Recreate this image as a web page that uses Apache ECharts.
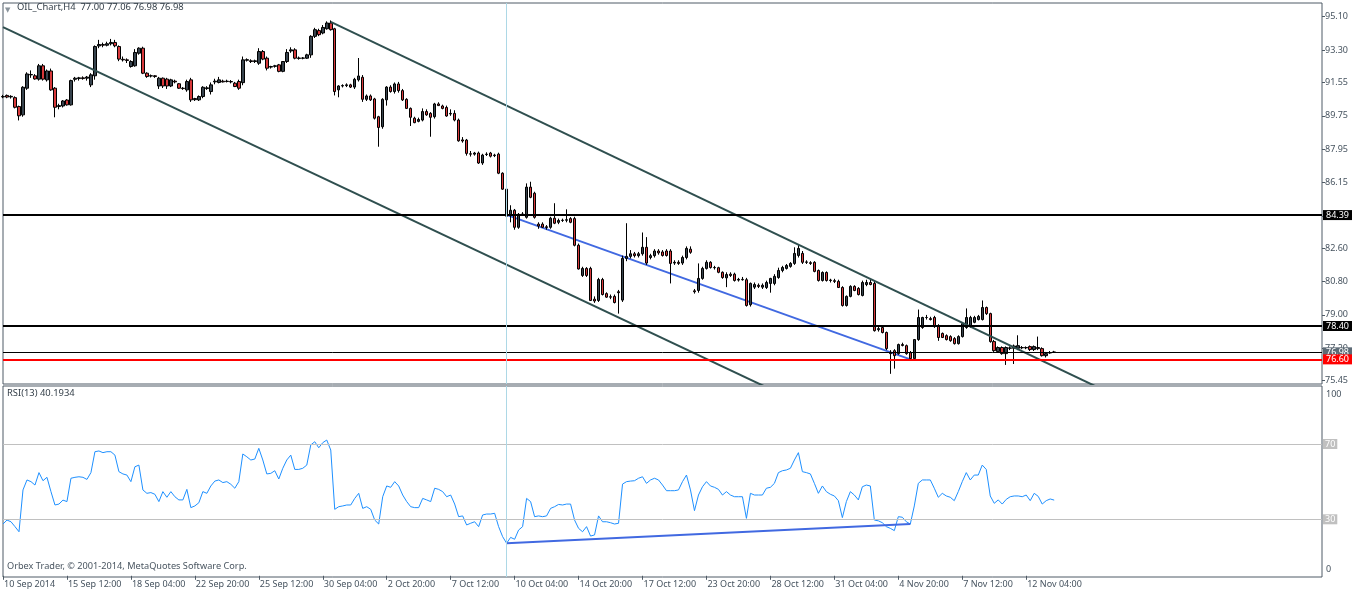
<!DOCTYPE html>
<html><head><meta charset="utf-8">
<script src="https://cdn.jsdelivr.net/npm/echarts@6/dist/echarts.min.js"></script>
<style>html,body{margin:0;padding:0;background:#fff}#c{width:1362px;height:594px}</style>
</head><body><div id="c"></div>
<script>
const symbolName = 'OIL_Chart,H4';
const opens = [
90.77,90.85,90.77,90.73,90.25,89.80,91.24,91.96,91.91,91.73,
92.45,91.69,92.17,91.24,90.25,90.28,90.60,90.34,91.72,91.76,
91.80,91.78,91.42,91.91,93.52,93.60,93.56,93.64,93.71,93.49,
92.80,92.77,92.41,92.45,93.13,93.40,92.05,91.90,91.91,91.36,
91.78,91.73,91.36,91.62,91.48,91.24,91.15,91.69,90.62,90.61,
90.79,91.22,91.06,91.58,91.55,91.62,91.60,91.60,91.51,91.60,
91.54,92.75,92.72,92.68,92.59,93.22,92.86,92.38,92.42,92.50,
92.15,92.68,93.25,93.31,92.85,92.86,92.86,93.04,94.04,94.35,
94.22,94.45,94.76,94.45,91.15,91.36,91.38,91.42,91.30,91.69,
91.83,90.64,90.82,90.66,89.70,89.16,90.61,91.30,91.06,91.47,
91.11,90.64,90.15,89.62,89.45,89.52,89.98,89.88,89.70,90.39,
90.28,90.20,89.85,89.88,89.52,88.45,88.44,87.70,87.68,87.74,
87.20,87.66,87.74,87.60,87.68,86.65,85.79,84.38,84.65,83.73,
84.45,84.27,85.90,85.57,83.90,83.90,83.76,83.73,84.22,84.00,
84.10,84.11,84.20,84.20,82.76,81.13,81.51,81.51,79.85,79.78,
80.91,80.15,79.98,80.00,80.25,79.80,82.05,82.16,82.30,82.20,
82.30,82.65,82.10,82.20,82.45,82.40,82.45,82.45,81.80,81.84,
81.80,82.10,82.55,80.30,80.32,80.97,81.51,81.84,81.56,81.55,
81.30,81.00,81.20,81.20,80.88,80.92,80.90,79.55,80.50,80.60,
80.50,80.48,80.70,80.70,81.02,81.40,81.51,81.62,81.78,82.21,
82.32,81.84,81.82,81.84,81.40,80.86,81.29,80.86,80.85,80.81,
80.48,79.51,80.00,80.54,80.43,80.05,80.64,80.75,80.70,78.20,
78.32,78.05,76.96,77.07,76.91,77.40,77.34,76.96,76.64,77.67,
78.32,78.86,78.80,78.86,78.42,78.00,77.88,77.83,77.72,77.45,
77.83,78.32,78.37,78.60,78.75,78.75,79.40,79.07,77.56,77.02,
77.24,76.91,77.20,77.20,77.20,77.24,77.22,77.29,77.13,77.24,
77.18,76.80,76.95,77.00];
const highs = [
90.88,90.90,90.86,90.80,90.30,91.35,92.10,92.20,92.00,92.55,
92.55,92.25,92.30,91.30,90.40,90.60,90.65,91.70,91.85,91.85,
91.88,91.90,92.05,93.55,93.85,93.70,93.75,93.90,93.85,93.55,
92.95,92.85,92.75,93.35,93.45,93.48,92.10,91.98,91.95,91.85,
91.82,91.80,91.75,91.70,91.52,91.30,91.70,91.80,90.72,90.85,
91.35,91.35,91.55,91.75,91.85,91.70,91.70,91.68,91.58,91.70,
92.95,92.85,92.80,92.78,93.40,93.30,92.95,92.45,92.50,92.55,
92.70,93.35,93.45,93.40,92.95,92.92,93.10,94.10,94.50,94.45,
94.65,94.85,94.90,94.50,91.40,91.45,91.50,91.48,91.80,92.87,
91.95,90.90,90.90,90.72,89.75,90.70,91.35,91.40,91.55,91.58,
91.20,90.70,90.20,89.70,89.65,90.15,90.10,89.95,90.45,90.48,
90.35,90.30,90.10,90.05,89.60,88.60,88.50,87.85,87.80,87.82,
87.70,87.78,87.80,87.70,87.76,86.70,85.85,84.92,84.72,84.50,
84.55,86.10,86.19,85.65,84.00,84.00,83.85,84.30,85.03,84.20,
84.20,84.70,84.28,84.30,82.85,81.60,81.58,81.60,80.00,81.00,
81.00,80.22,80.10,80.10,80.35,82.20,83.95,82.50,82.40,82.40,
83.45,83.20,82.30,82.55,82.55,82.50,82.55,82.55,81.95,81.95,
82.20,82.70,82.70,80.40,81.78,81.60,81.95,81.90,81.65,81.60,
81.35,81.30,81.30,81.28,81.00,81.05,81.00,80.75,80.75,80.70,
80.70,80.85,81.00,81.20,81.55,81.65,81.75,81.85,82.65,82.80,
82.45,81.95,81.90,81.90,81.45,81.35,81.35,80.95,80.95,80.90,
80.55,80.05,80.60,80.60,80.50,80.85,80.90,80.90,80.85,78.35,
78.40,78.10,77.10,77.15,77.45,77.50,77.40,77.05,77.70,79.29,
78.90,79.00,78.90,78.95,78.50,78.05,77.95,77.90,77.80,77.90,
78.60,79.35,78.95,78.95,79.00,79.78,79.45,79.12,77.65,77.30,
77.30,77.30,77.30,77.40,77.90,77.32,77.30,77.35,77.35,77.83,
77.25,77.00,77.05,77.06];
const lows = [
90.70,90.70,90.68,90.15,89.50,89.70,91.15,91.80,91.70,91.65,
91.65,91.60,91.10,89.67,90.10,90.20,90.30,90.30,91.60,91.65,
91.70,91.65,91.30,91.70,93.40,93.45,93.50,93.55,93.45,92.70,
92.68,92.60,92.35,92.40,93.05,92.00,91.80,91.82,91.80,91.20,
91.25,91.20,91.30,91.50,91.20,91.15,91.05,90.50,90.55,90.55,
90.70,91.15,90.90,91.45,91.50,91.55,91.55,91.50,91.30,91.15,
91.40,92.68,92.60,92.60,92.50,92.75,92.20,92.30,92.35,92.10,
92.10,92.60,93.15,92.80,92.78,92.80,92.82,92.88,93.95,94.05,
94.15,94.40,94.35,90.85,90.75,91.28,91.30,91.25,91.20,91.60,
90.50,90.55,90.55,89.55,88.08,89.05,90.30,91.00,90.95,91.00,
90.55,90.12,89.20,89.35,89.40,89.45,89.75,88.62,89.60,90.28,
90.10,89.70,89.75,89.45,88.35,88.30,87.60,87.55,87.60,87.15,
87.10,87.58,87.50,87.52,86.60,85.75,84.20,84.00,83.60,83.65,
84.35,84.20,85.30,84.20,83.65,83.70,83.60,83.65,83.90,83.90,
84.02,84.00,83.95,82.70,81.45,81.05,81.05,79.75,79.65,79.70,
80.05,79.92,79.85,79.62,79.07,79.70,81.90,82.05,82.10,82.10,
82.20,81.70,82.00,82.10,82.25,82.15,82.15,80.70,81.70,81.70,
81.70,82.00,82.30,80.15,80.20,80.90,81.45,81.50,81.45,81.25,
80.95,80.50,81.05,80.80,80.80,80.85,79.45,79.45,80.40,80.45,
80.40,80.40,80.20,80.60,80.95,81.30,81.45,81.55,81.70,82.10,
81.75,81.75,81.70,81.30,80.80,80.80,80.80,80.75,80.72,80.45,
79.45,79.45,79.95,80.28,80.05,80.00,80.55,80.60,78.10,78.10,
78.00,77.10,75.82,76.10,76.85,77.30,76.85,76.60,76.58,77.60,
78.25,78.75,78.70,78.30,77.60,77.75,77.62,77.55,77.40,77.40,
77.78,78.25,78.30,78.55,78.70,78.70,79.00,77.50,77.00,76.95,
76.85,76.30,77.10,76.35,77.10,77.15,77.15,77.05,77.05,77.10,
76.75,76.70,76.90,76.98];
const closes = [
90.79,90.76,90.80,90.21,89.75,91.29,92.01,91.98,91.74,92.45,
91.73,92.17,91.15,90.21,90.30,90.55,90.34,91.65,91.78,91.80,
91.76,91.84,91.96,93.49,93.60,93.56,93.64,93.71,93.53,92.81,
92.77,92.74,92.68,93.17,93.40,92.05,91.87,91.91,91.87,91.78,
91.36,91.36,91.69,91.58,91.24,91.22,91.60,90.61,90.68,90.79,
91.29,91.26,91.42,91.62,91.69,91.58,91.62,91.58,91.33,91.24,
92.77,92.78,92.68,92.72,93.22,92.81,92.32,92.41,92.45,92.15,
92.68,93.17,93.31,92.86,92.87,92.87,93.04,94.04,94.40,94.13,
94.52,94.76,94.40,91.06,91.36,91.38,91.42,91.30,91.72,91.90,
90.64,90.82,90.61,89.62,89.12,90.64,91.30,91.06,91.47,91.11,
90.61,90.15,89.67,89.38,89.55,89.98,89.80,89.67,90.39,90.30,
90.15,89.74,89.88,89.52,88.40,88.39,87.72,87.68,87.74,87.20,
87.63,87.68,87.57,87.63,86.65,85.79,84.33,84.65,83.73,84.43,
84.40,85.90,85.35,84.27,83.80,83.73,83.72,84.22,83.95,84.10,
84.11,84.14,84.00,82.76,81.48,81.51,81.13,79.78,79.75,80.91,
80.10,79.96,79.96,79.67,80.20,82.05,82.16,82.30,82.20,82.30,
82.65,81.80,82.20,82.45,82.35,82.21,82.21,81.78,81.84,81.78,
82.10,82.59,82.38,80.25,80.97,81.51,81.84,81.56,81.55,81.30,
81.02,81.18,81.13,80.86,80.92,80.90,79.51,80.70,80.64,80.54,
80.60,80.75,80.97,81.08,81.40,81.56,81.67,81.78,82.32,82.59,
81.84,81.86,81.78,81.35,80.86,81.29,80.86,80.88,80.81,80.48,
79.51,80.00,80.54,80.32,80.10,80.75,80.75,80.64,78.15,78.26,
78.05,77.18,76.91,76.80,77.40,77.35,76.91,76.64,77.67,78.86,
78.86,78.86,78.75,78.37,77.78,77.78,77.67,77.61,77.45,77.83,
78.53,78.86,78.86,78.86,78.92,79.40,79.07,77.56,77.07,77.24,
76.91,77.24,77.22,77.32,77.34,77.22,77.24,77.13,77.29,77.18,
76.80,76.91,76.96,76.98];
const rsiValues = [
27.5,29.6,28.7,26.1,23.4,45.6,50.9,50.0,48.2,54.8,
50.5,52.3,44.7,37.6,38.1,40.2,39.4,51.8,52.3,52.6,
52.3,51.2,54.8,65.9,66.3,65.4,65.9,65.9,64.1,55.3,
54.1,53.5,50.0,57.9,58.8,45.6,43.8,44.2,43.3,39.4,
44.7,41.7,44.7,42.0,40.3,40.3,45.9,36.2,37.1,38.8,
44.7,43.8,47.7,50.3,50.9,49.5,50.0,48.6,46.5,50.0,
64.7,63.2,61.5,62.0,67.7,61.5,54.1,54.4,55.8,51.4,
57.1,61.5,64.1,56.5,56.5,57.1,58.8,69.5,71.2,68.0,
70.7,72.1,66.8,35.3,36.7,37.1,37.6,37.6,41.1,43.8,
35.8,36.7,35.3,29.6,27.5,42.0,47.7,47.0,50.0,47.7,
42.9,39.4,36.7,36.2,36.2,41.1,40.3,39.4,46.5,45.9,
44.7,42.0,42.9,38.1,31.4,31.8,27.0,27.9,28.7,26.1,
32.3,32.8,32.8,33.2,26.1,20.8,17.3,20.4,19.4,24.3,
26.1,41.1,39.4,31.4,31.8,31.4,31.8,35.8,36.7,37.9,
37.6,38.1,38.1,29.6,25.2,23.4,26.1,21.1,21.7,31.8,
28.7,28.7,28.2,27.5,27.9,48.7,50.0,50.3,50.5,51.8,
52.6,49.1,50.9,51.8,50.9,48.2,45.2,45.2,45.2,45.6,
50.0,53.5,45.6,34.6,42.9,47.3,50.0,47.7,47.0,45.9,
42.9,44.7,42.9,42.0,42.0,42.0,30.5,43.8,42.9,42.9,
42.9,46.5,47.0,49.1,54.8,55.8,56.2,57.1,61.5,65.4,
55.3,54.8,54.1,49.1,43.8,47.7,44.7,43.3,42.4,39.9,
30.9,39.4,44.7,42.9,40.3,47.3,48.2,47.7,29.6,29.2,
28.2,26.1,25.2,24.0,31.4,31.1,28.7,27.5,37.1,49.1,
50.9,50.9,50.9,46.5,41.7,43.8,42.4,41.7,39.9,44.7,
50.0,54.8,50.9,53.5,53.5,58.8,56.5,42.4,38.5,40.3,
38.1,40.6,42.0,42.4,42.4,42.0,42.9,39.9,43.8,42.2,
38.1,39.9,40.8,40.1934];
const tickLabels = ['10 Sep 2014','15 Sep 12:00','18 Sep 04:00','22 Sep 20:00','25 Sep 12:00','30 Sep 04:00','2 Oct 20:00','7 Oct 12:00','10 Oct 04:00','14 Oct 20:00','17 Oct 12:00','23 Oct 20:00','28 Oct 12:00','31 Oct 04:00','4 Nov 20:00','7 Nov 12:00','12 Nov 04:00'];
const labelEvery = 16;
const priceTicks = [95.10, 93.30, 91.55, 89.75, 87.95, 86.15, 84.35, 82.60, 80.80, 79.00, 77.20, 75.45];
const rsiTicks = [100, 0];
const rsiLevels = [70, 30];
const supportLevels = [84.39, 78.40];
const redLevel = 76.60;
const bidPrice = 76.98;
const upperChannel = [[82, 94.82], [300, 72.41]];
const lowerChannel = [[0, 94.54], [200, 74.18]];
const priceTrend = [[126, 84.40], [227, 76.60]];
const rsiTrend = [[126, 17.3], [227, 27.5]];
const markerBar = 126;
const totalSlots = 331;
const rsiPeriod = 13;

const FONT = '"Noto Sans", "DejaVu Sans", sans-serif';
const TXT = '#46535f';
const BORDER = '#4f5b66';
const cats = Array.from({length: totalSlots}, (_, i) => String(i));
const candleData = opens.map((o, i) => [o, closes[i], lows[i], highs[i]]);
const showTick = (idx) => idx % labelEvery === 0 && idx / labelEvery < tickLabels.length;
const n = opens.length - 1;
const headText = symbolName + '  ' + [opens[n], highs[n], lows[n], closes[n]].map(v => v.toFixed(2)).join(' ');

const lblBox = (bg) => ({show: true, position: 'end', distance: 1, formatter: p => Number(p.value).toFixed(2),
  color: '#fff', backgroundColor: bg, fontSize: 9, fontFamily: FONT, padding: [1, 3, 0, 3]});

const chart = echarts.init(document.getElementById('c'), null, {renderer: 'canvas'});
chart.setOption({
  animation: false,
  backgroundColor: '#fff',
  title: [
    {text: '▼', left: 5, top: 6, padding: 0, textStyle: {fontSize: 7, color: '#8a949c', fontWeight: 'normal', fontFamily: FONT}},
    {text: headText, left: 17, top: 3, padding: 0, textStyle: {fontSize: 9.4, color: '#333e48', fontWeight: 'normal', fontFamily: FONT}},
    {text: 'RSI(' + rsiPeriod + ') ' + rsiValues[n].toFixed(4), left: 7, top: 389, padding: 0, textStyle: {fontSize: 9.4, color: '#333e48', fontWeight: 'normal', fontFamily: FONT}},
    {text: 'Orbex Trader, © 2001-2014, MetaQuotes Software Corp.', left: 7, top: 562, padding: 0, textStyle: {fontSize: 9.2, color: '#4a5661', fontWeight: 'normal', fontFamily: FONT}}
  ],
  grid: [
    {left: 3, right: 40, top: 3, height: 381, show: true, borderColor: BORDER, borderWidth: 1, backgroundColor: '#fff'},
    {left: 3, right: 40, top: 386, height: 191, show: true, borderColor: BORDER, borderWidth: 1, backgroundColor: '#fff'}
  ],
  xAxis: [
    {type: 'category', data: cats, gridIndex: 0, boundaryGap: false, axisLine: {show: false}, axisTick: {show: false}, axisLabel: {show: false}, splitLine: {show: false}},
    {type: 'category', data: cats, gridIndex: 1, boundaryGap: false, axisLine: {show: false},
      axisTick: {show: true, interval: (idx) => showTick(idx), length: 4, lineStyle: {color: BORDER}},
      axisLabel: {show: true, interval: (idx) => showTick(idx), formatter: (v, idx) => tickLabels[idx / labelEvery],
        align: 'left', margin: 3, color: TXT, fontSize: 9, fontFamily: FONT, padding: [0, 0, 0, 1]},
      splitLine: {show: false}}
  ],
  yAxis: [
    {type: 'value', gridIndex: 0, position: 'right', min: 75.27, max: 95.84, splitLine: {show: false}, axisLine: {show: false},
      axisTick: {show: true, customValues: priceTicks, length: 3, lineStyle: {color: BORDER}},
      axisLabel: {customValues: priceTicks, formatter: v => v.toFixed(2), color: TXT, fontSize: 9, fontFamily: FONT, margin: 3}},
    {type: 'value', gridIndex: 1, position: 'right', min: -0.64, max: 100.8, splitLine: {show: false}, axisLine: {show: false},
      axisTick: {show: false},
      axisLabel: {customValues: rsiTicks, margin: 4, fontSize: 9, fontFamily: FONT, color: TXT,
        formatter: v => (v >= 50 ? '{t|' + v + '}' : '{b|' + v + '}'),
        rich: {t: {padding: [13, 0, 0, 0], color: TXT, fontSize: 9, fontFamily: FONT}, b: {padding: [0, 0, 13, 0], color: TXT, fontSize: 9, fontFamily: FONT}}}}
  ],
  series: [
    {type: 'candlestick', xAxisIndex: 0, yAxisIndex: 0, data: candleData, barWidth: 3,
      itemStyle: {color: '#37434d', color0: '#d8393b', borderColor: '#000', borderColor0: '#000', borderWidth: 1},
      markLine: {silent: true, symbol: ['none', 'none'], animation: false, z: 5,
        data: [
          ...supportLevels.map(v => ({yAxis: v, lineStyle: {color: '#000', width: 2, type: 'solid'}, label: lblBox('#000')})),
          {yAxis: bidPrice, lineStyle: {color: '#000', width: 1, type: 'solid'}, label: lblBox('#5d6b76')},
          {yAxis: redLevel, lineStyle: {color: '#ff0000', width: 2, type: 'solid'}, label: lblBox('#ff0000')},
          {xAxis: String(markerBar), lineStyle: {color: '#add8e6', width: 1, type: 'solid'}, label: {show: false}}
        ]}},
    {type: 'line', xAxisIndex: 0, yAxisIndex: 0, data: upperChannel, symbol: 'none', lineStyle: {color: '#2f4f4f', width: 2}, clip: true, z: 3},
    {type: 'line', xAxisIndex: 0, yAxisIndex: 0, data: lowerChannel, symbol: 'none', lineStyle: {color: '#2f4f4f', width: 2}, clip: true, z: 3},
    {type: 'line', xAxisIndex: 0, yAxisIndex: 0, data: priceTrend, symbol: 'none', lineStyle: {color: '#4169e1', width: 2}, clip: true, z: 1},
    {type: 'line', xAxisIndex: 1, yAxisIndex: 1, data: rsiValues, symbol: 'none', lineStyle: {color: '#1e90ff', width: 1}, z: 3,
      markLine: {silent: true, symbol: ['none', 'none'], animation: false,
        data: [
          ...rsiLevels.map(v => ({yAxis: v, lineStyle: {color: '#c0c0c0', width: 1, type: 'solid'},
            label: {show: true, position: 'end', distance: 1, formatter: String(v), color: '#fff', backgroundColor: '#c0c0c0', fontSize: 9, fontFamily: FONT, padding: [1, 2, 0, 2]}})),
          {xAxis: String(markerBar), lineStyle: {color: '#add8e6', width: 1, type: 'solid'}, label: {show: false}}
        ]}},
    {type: 'line', xAxisIndex: 1, yAxisIndex: 1, data: rsiTrend, symbol: 'none', lineStyle: {color: '#4169e1', width: 2}, z: 4}
  ]
});
</script></body></html>
